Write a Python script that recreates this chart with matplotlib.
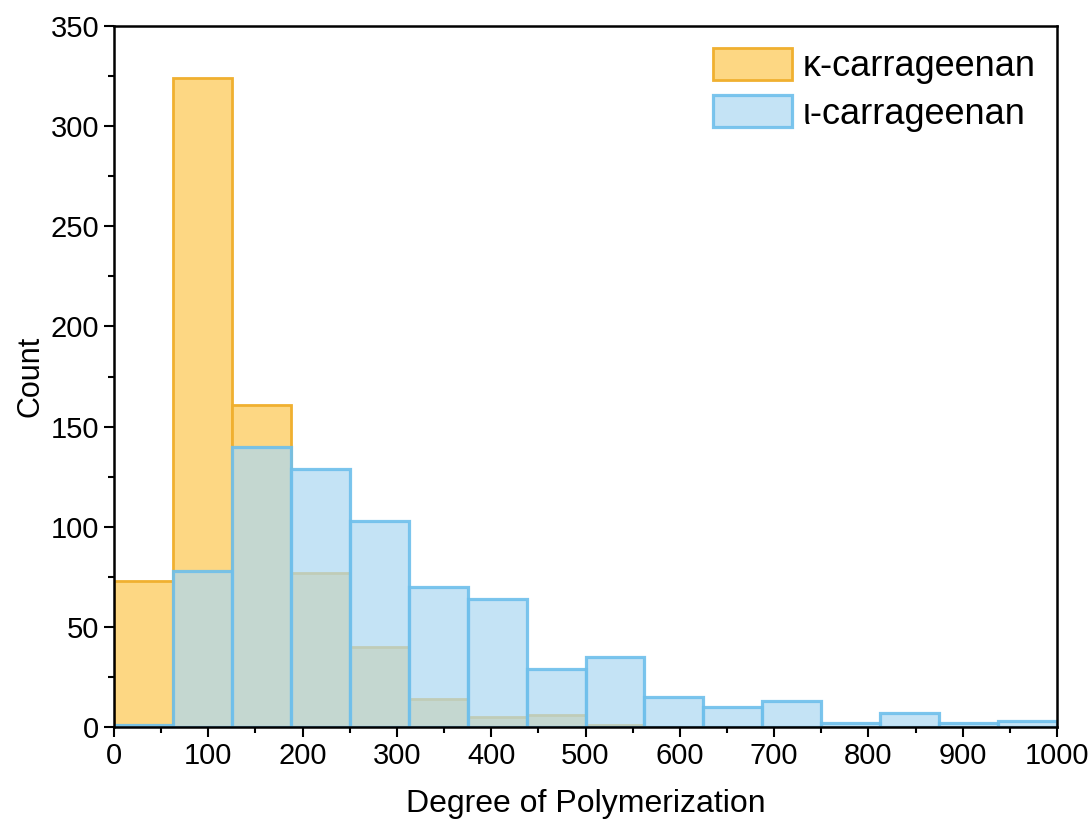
import numpy as np
import matplotlib
matplotlib.use("Agg")
import matplotlib.pyplot as plt
from matplotlib.ticker import MultipleLocator

plt.rcParams['font.family'] = ['Liberation Sans', 'DejaVu Sans']

bin_edges = np.linspace(0, 1000, 17)
kappa_counts = [73, 324, 161, 77, 40, 14, 5, 6, 1, 0, 0, 0, 0, 0, 0, 0]
iota_counts = [1, 78, 140, 129, 103, 70, 64, 29, 35, 15, 10, 13, 2, 7, 2, 3]
labels = ['κ-carrageenan', 'ι-carrageenan']

fig = plt.figure(figsize=(10.92, 8.23), dpi=100)
ax = fig.add_axes([0.1044, 0.1166, 0.8636, 0.8518])

centers = (bin_edges[:-1] + bin_edges[1:]) / 2
ax.hist(centers, bins=bin_edges, weights=kappa_counts, histtype='bar',
        facecolor='#FDD783', edgecolor='#F0B030', linewidth=2.0, label=labels[0])
ax.hist(centers, bins=bin_edges, weights=iota_counts, histtype='bar',
        facecolor=(172/255, 216/255, 242/255, 0.7), edgecolor=(0.43, 0.75, 0.92, 0.9),
        linewidth=2.3, label=labels[1])

ax.set_xlim(0, 1000)
ax.set_ylim(0, 350)
ax.xaxis.set_major_locator(MultipleLocator(100))
ax.xaxis.set_minor_locator(MultipleLocator(50))
ax.yaxis.set_major_locator(MultipleLocator(50))
ax.yaxis.set_minor_locator(MultipleLocator(25))
ax.tick_params(which='major', direction='out', length=7, width=1.5, labelsize=21)
ax.tick_params(which='minor', direction='out', length=4, width=1.5)
for s in ax.spines.values():
    s.set_linewidth(1.8)

ax.set_xlabel('Degree of Polymerization', fontsize=23, labelpad=14)
ax.set_ylabel('Count', fontsize=22, labelpad=4)

ax.legend(loc='upper right', fontsize=26, frameon=False, handlelength=2.17,
          handleheight=1.0, handletextpad=0.3, borderaxespad=0.3, borderpad=0.3,
          labelspacing=0.3)

fig.savefig('out.png', dpi=100)
